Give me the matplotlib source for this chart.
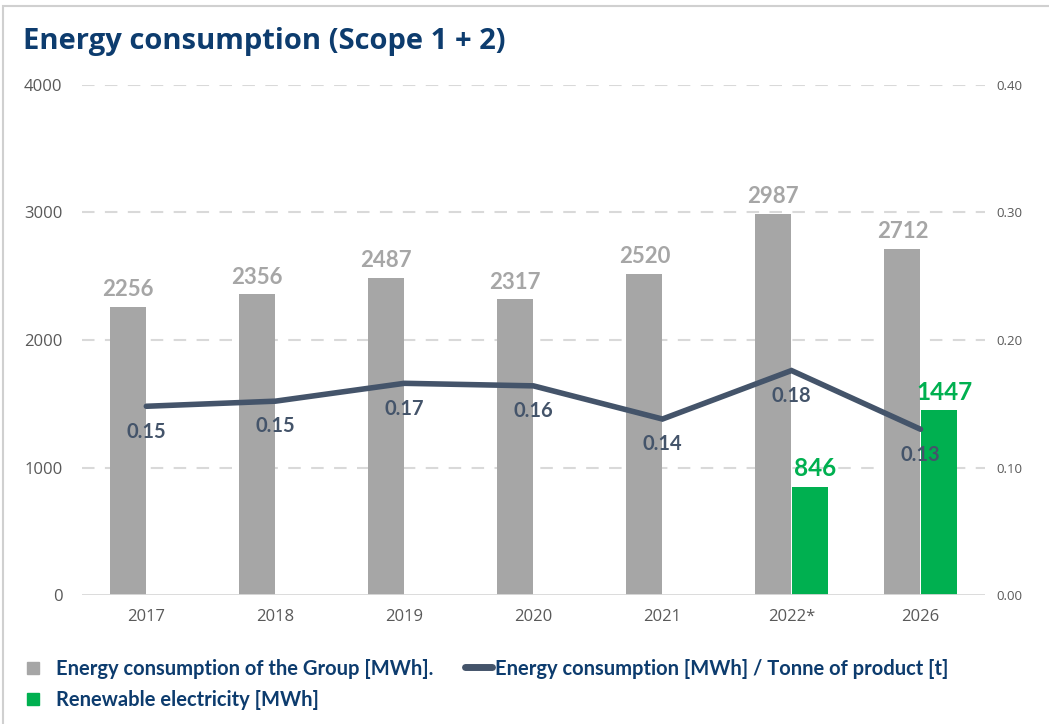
import matplotlib
matplotlib.use("Agg")
import matplotlib.pyplot as plt
from matplotlib.patches import Rectangle
from matplotlib.lines import Line2D
from matplotlib.legend_handler import HandlerPatch
import numpy as np

years = ["2017", "2018", "2019", "2020", "2021", "2022*", "2026"]
group_energy = [2256, 2356, 2487, 2317, 2520, 2987, 2712]
renewable = [None, None, None, None, None, 846, 1447]
intensity = [0.148, 0.152, 0.166, 0.164, 0.138, 0.176, 0.130]
intensity_labels = ["0.15", "0.15", "0.17", "0.16", "0.14", "0.18", "0.13"]
left_ticks = [0, 1000, 2000, 3000, 4000]
right_ticks = [0.0, 0.1, 0.2, 0.3, 0.4]

GRAY = "#a6a6a6"
GREEN = "#00b050"
LINE = "#44546a"
NAVY = "#0d3c6e"
TICK = "#595959"

plt.rcParams["font.family"] = ["Open Sans", "DejaVu Sans"]

fig = plt.figure(figsize=(10.49, 7.24), dpi=100)
fig.patches.append(Rectangle((0.003, -0.01), 1.2, 1.002, transform=fig.transFigure,
                             fill=False, edgecolor="#d0d0d0", linewidth=1.5))
ax = fig.add_axes([0.078, 0.178, 0.861, 0.705])
ax2 = ax.twinx()

x = np.arange(len(years))
w = 0.28
ax.bar(x - w / 2 - 0.005, group_energy, width=w, color=GRAY, zorder=2)
for xi, v in zip(x, group_energy):
    ax.annotate(str(v), (xi - w / 2, v), xytext=(0, 5), textcoords="offset points",
                ha="center", va="bottom", fontsize=16, fontweight="bold", color=GRAY,
                fontfamily="Lato")

gx = [xi for xi, r in zip(x, renewable) if r is not None]
gv = [r for r in renewable if r is not None]
ax.bar(np.array(gx) + w / 2 + 0.005, gv, width=w, color=GREEN, zorder=2)
for xi, v in zip(gx, gv):
    ax.annotate(str(v), (xi + w / 2, v), xytext=(4, 5), textcoords="offset points",
                ha="center", va="bottom", fontsize=17.5, fontweight="bold", color=GREEN,
                fontfamily="Lato")

ax.set_ylim(0, 4000)
ax.set_xlim(-0.5, len(years) - 0.5)
ax.set_yticks(left_ticks)
ax.set_yticklabels([str(t) for t in left_ticks])
ax.set_xticks(x)
ax.set_xticklabels(years)
ax.tick_params(axis="y", length=0, pad=14, labelsize=12, labelcolor=TICK)
ax.tick_params(axis="x", length=0, pad=10, labelsize=12, labelcolor=TICK)
for t in left_ticks[1:]:
    ax.axhline(t, color="#d9d9d9", linewidth=1.5, linestyle=(0, (6, 5)), zorder=1)
ax.axhline(0, color="#d9d9d9", linewidth=1.3, zorder=3)
for s in ax.spines.values():
    s.set_visible(False)

ax2.plot(x, intensity, color=LINE, linewidth=4, solid_capstyle="round",
         solid_joinstyle="miter", zorder=4)
for xi, v, lab in zip(x, intensity, intensity_labels):
    ax2.annotate(lab, (xi, v), xytext=(0, -11), textcoords="offset points",
                 ha="center", va="top", fontsize=14.5, fontweight="bold", color=LINE,
                 fontfamily="Lato")
ax2.set_ylim(0, 0.4)
ax2.set_yticks(right_ticks)
ax2.set_yticklabels([f"{t:.2f}" for t in right_ticks])
ax2.tick_params(axis="y", length=0, pad=8, labelsize=9.5, labelcolor=TICK)
for s in ax2.spines.values():
    s.set_visible(False)
ax.set_zorder(1)
ax2.set_zorder(2)
ax2.patch.set_visible(False)

fig.text(0.022, 0.942, "Energy consumption (Scope 1 + 2)", fontsize=21,
         fontweight="bold", color=NAVY, ha="left", va="center")


def small_square(legend, orig_handle, xdescent, ydescent, width, height, fontsize):
    s = 0.62 * fontsize
    return Rectangle((-xdescent, -ydescent + (height - s) / 2), s, s)


handles = [
    Rectangle((0, 0), 1, 1, color=GRAY),
    Rectangle((0, 0), 1, 1, color=GREEN),
    Line2D([0], [0], color=LINE, linewidth=5, solid_capstyle="round"),
]
labels = [
    "Energy consumption of the Group [MWh].",
    "Renewable electricity [MWh]",
    "Energy consumption [MWh] / Tonne of product [t]",
]
leg = fig.legend(handles, labels, loc="upper left", bbox_to_anchor=(0.008, 0.115),
                 ncol=2, frameon=False, handlelength=1.33, handleheight=0.9,
                 handletextpad=0.12, columnspacing=1.6, labelspacing=0.55,
                 handler_map={Rectangle: HandlerPatch(patch_func=small_square)},
                 prop={"family": "Lato", "weight": "bold", "size": 14.5})
for t in leg.get_texts():
    t.set_color(NAVY)

fig.savefig("out.png", dpi=100)
